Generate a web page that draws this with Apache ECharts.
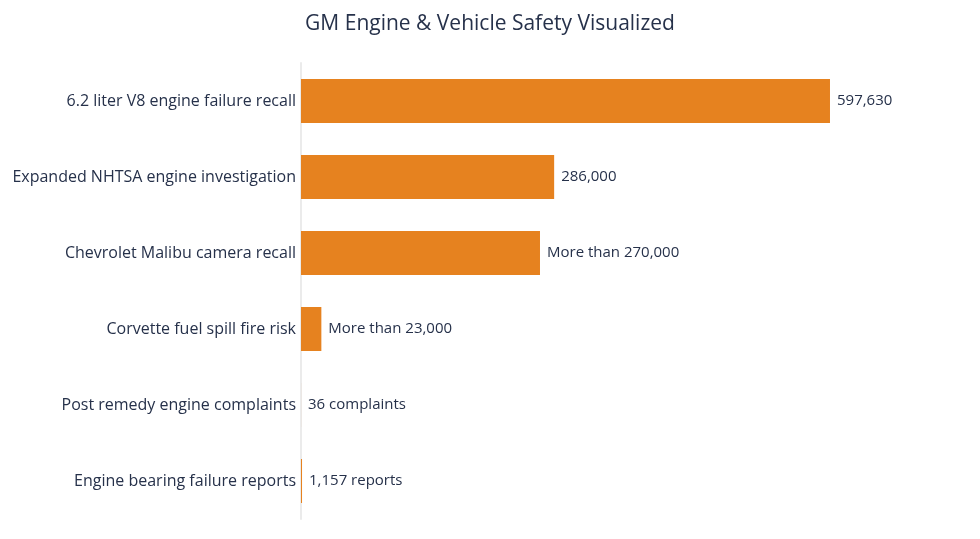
<!DOCTYPE html>
<html>
<head>
<meta charset="utf-8">
<script src="https://cdn.jsdelivr.net/npm/echarts@6/dist/echarts.min.js"></script>
<style>
html,body{margin:0;padding:0;background:#fff;}
#chart{width:980px;height:539px;}
</style>
</head>
<body>
<div id="chart"></div>
<script>
const categories = [
  "6.2 liter V8 engine failure recall",
  "Expanded NHTSA engine investigation",
  "Chevrolet Malibu camera recall",
  "Corvette fuel spill fire risk",
  "Post remedy engine complaints",
  "Engine bearing failure reports"
];
const values = [597630, 286000, 270000, 23000, 36, 1157];
const valueLabels = [
  "597,630",
  "286,000",
  "More than 270,000",
  "More than 23,000",
  "36 complaints",
  "1,157 reports"
];

const FONT = "'Open Sans', sans-serif";
const TEXT = '#26314a';

const chart = echarts.init(document.getElementById('chart'), null, {renderer: 'canvas'});
chart.setOption({
  backgroundColor: '#ffffff',
  animation: false,
  title: {
    text: 'GM Engine & Vehicle Safety Visualized',
    left: 'center',
    top: 9,
    textStyle: {fontFamily: FONT, fontSize: 21, fontWeight: 'normal', color: TEXT}
  },
  grid: {left: 301, right: 59.4, top: 63, bottom: 20, containLabel: false},
  xAxis: {
    type: 'value', min: 0, max: 700000,
    show: false
  },
  yAxis: {
    type: 'category',
    data: categories,
    inverse: true,
    axisLine: {show: true, lineStyle: {color: '#ebebeb', width: 2}},
    axisTick: {show: false},
    axisLabel: {fontFamily: FONT, fontSize: 16, color: TEXT, margin: 5}
  },
  series: [{
    type: 'bar',
    data: values,
    barWidth: 44,
    itemStyle: {color: '#e6821f'},
    label: {
      show: true,
      position: 'right',
      distance: 7,
      fontFamily: FONT,
      fontSize: 15,
      color: TEXT,
      formatter: p => valueLabels[p.dataIndex]
    }
  }]
});
</script>
</body>
</html>
